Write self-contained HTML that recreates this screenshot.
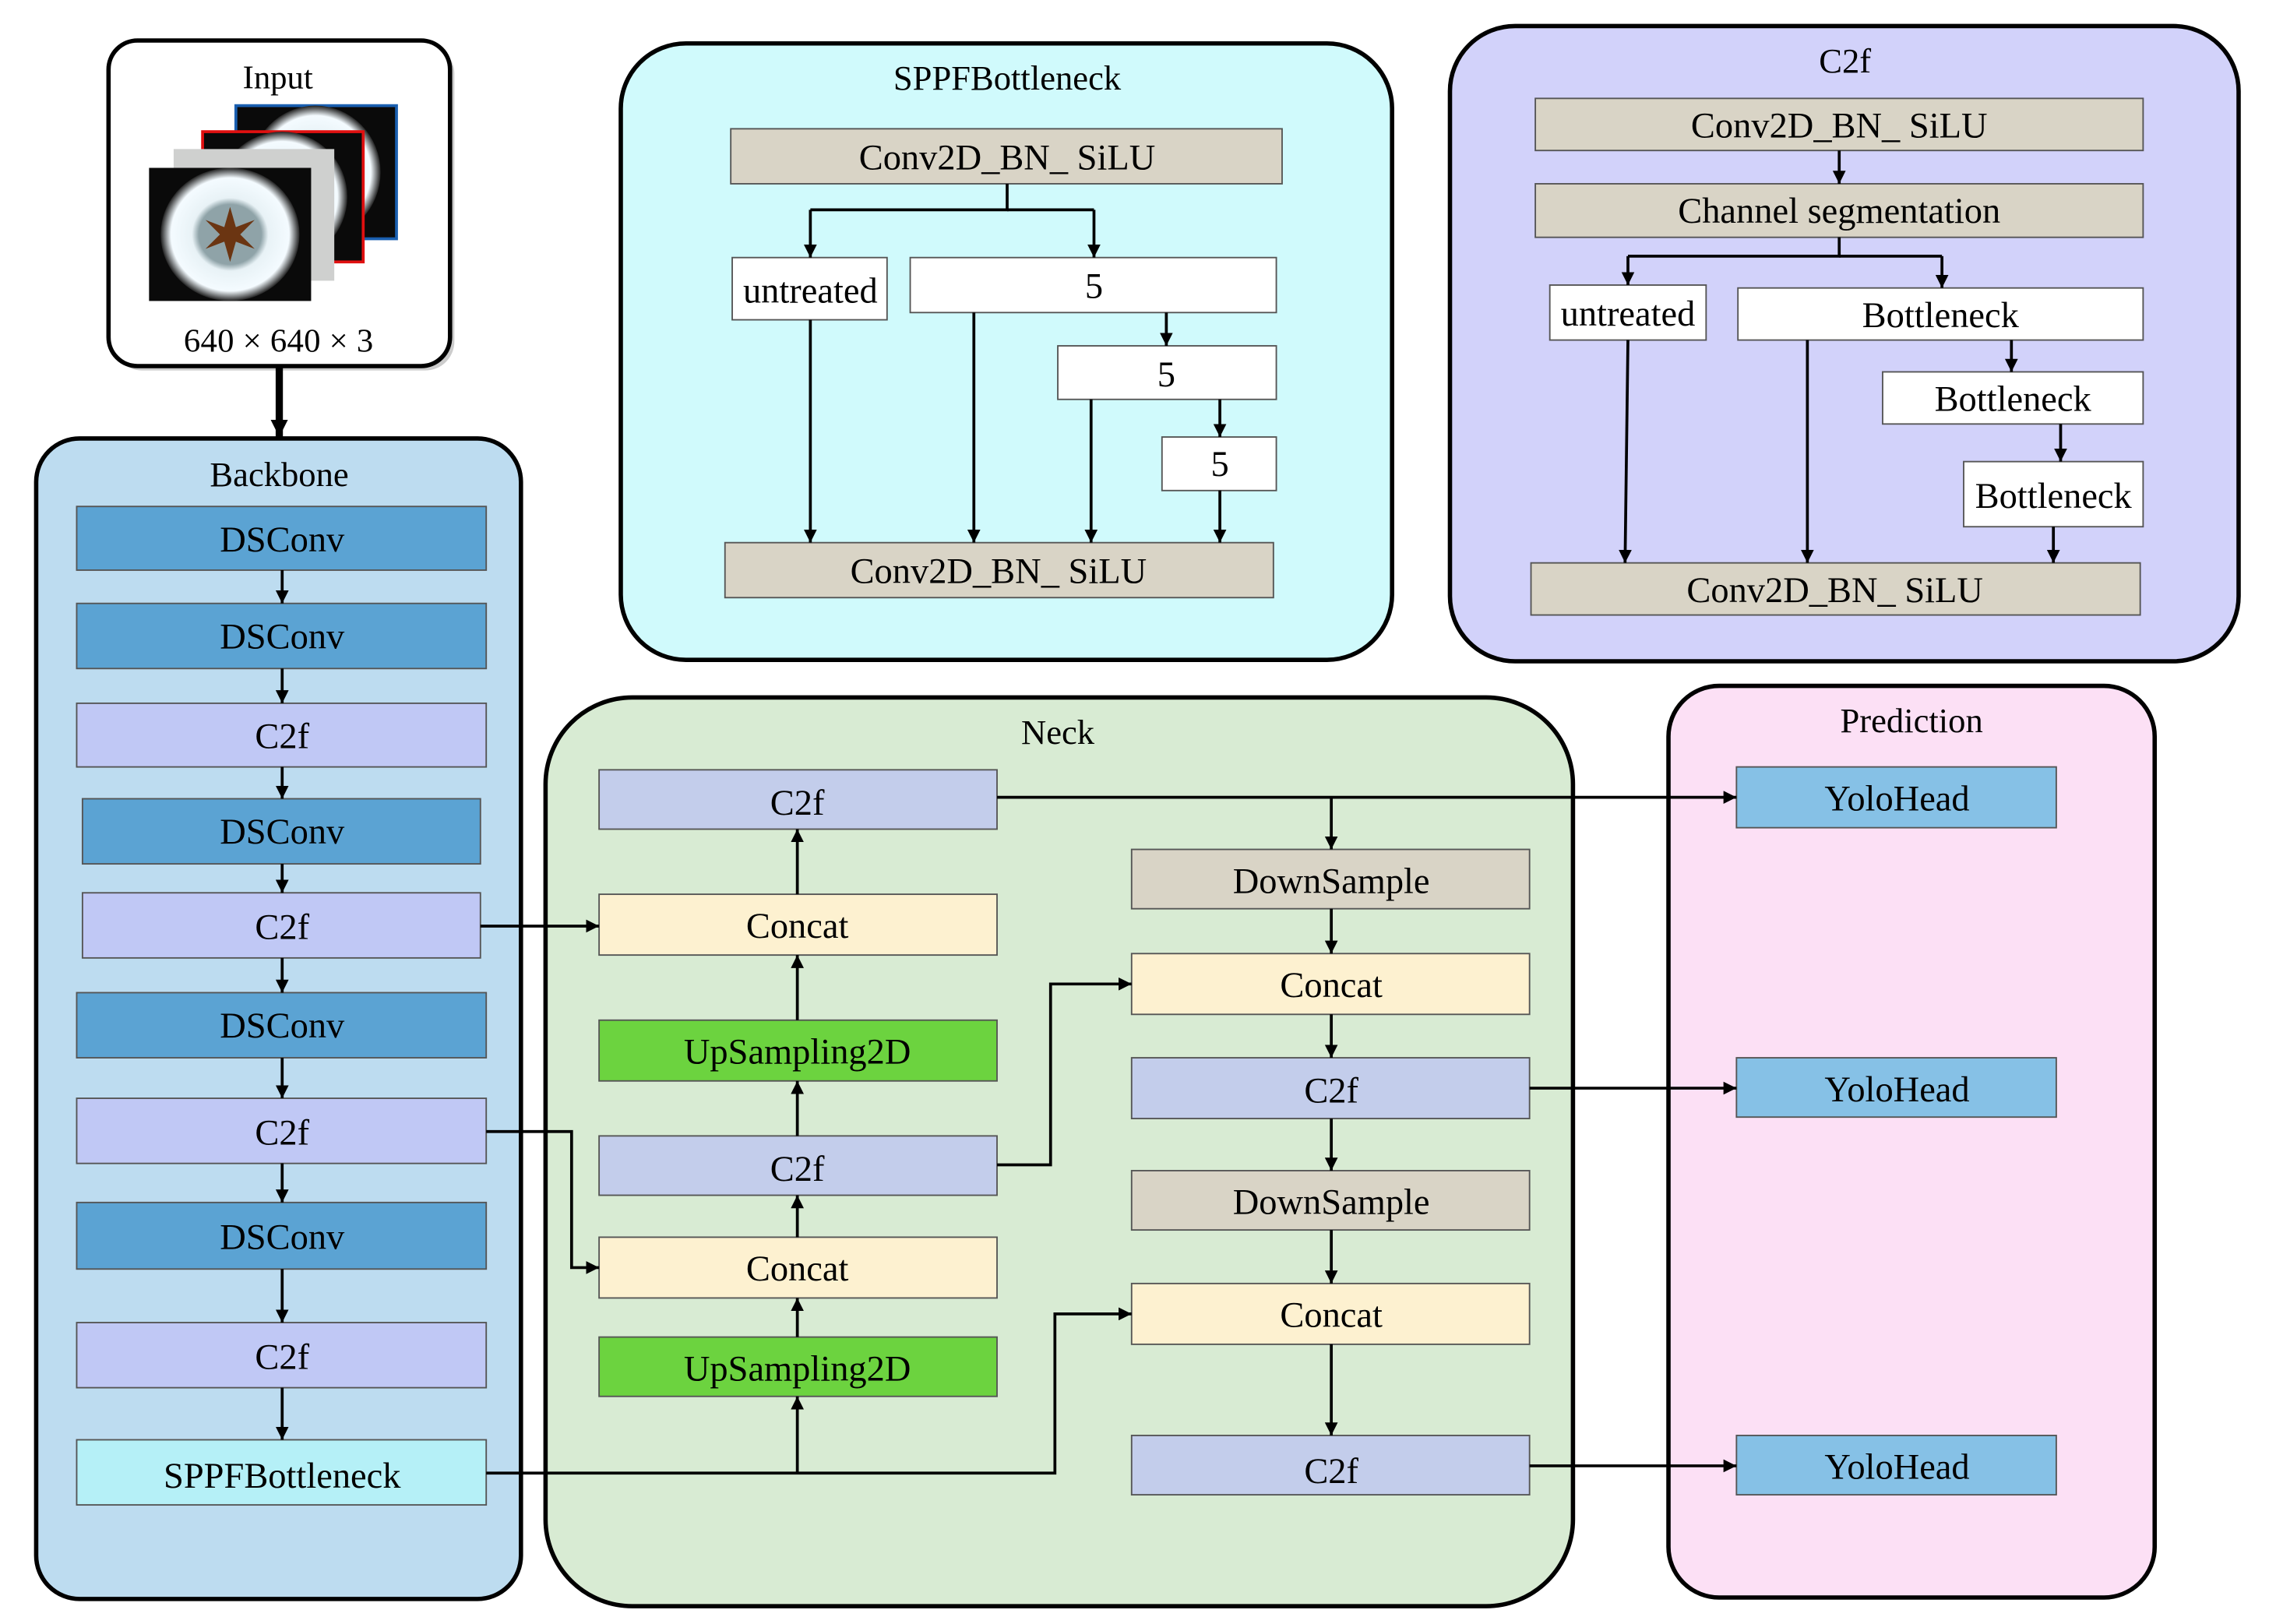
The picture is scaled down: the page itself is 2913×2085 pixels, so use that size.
<!DOCTYPE html>
<html><head><meta charset="utf-8"><style>
html,body{margin:0;padding:0;background:#fff;}
svg{display:block;}
text{font-family:"Liberation Serif",serif;fill:#000;}
</style></head><body>
<svg width="2913" height="2085" viewBox="0 0 1568 1122.3" xmlns="http://www.w3.org/2000/svg">
<defs>
<marker id="a" viewBox="0 0 10 10" refX="10" refY="5" markerWidth="9" markerHeight="9" markerUnits="userSpaceOnUse" orient="auto"><path d="M0,0L10,5L0,10z" fill="#000"/></marker>
<marker id="b" viewBox="0 0 10 10" refX="10" refY="5" markerWidth="12" markerHeight="12" markerUnits="userSpaceOnUse" orient="auto"><path d="M0,0L10,5L0,10z" fill="#000"/></marker>
<radialGradient id="ring" cx="50%" cy="50%" r="50%"><stop offset="0.45" stop-color="#8fa3a8"/><stop offset="0.55" stop-color="#e8f2f6"/><stop offset="0.85" stop-color="#f4fbff"/><stop offset="1" stop-color="#222"/></radialGradient>
</defs>
<rect width="1568" height="1123" fill="#fff"/>

<!-- Input -->
<rect x="78" y="31" width="236" height="225" rx="20" fill="#ccc"/>
<rect x="75" y="28" width="236" height="225" rx="20" fill="#fff" stroke="#000" stroke-width="3"/>
<text x="192" y="61" font-size="23" text-anchor="middle">Input</text>
<rect x="163" y="73" width="111" height="92" fill="#0a0a0a" stroke="#1a5fb0" stroke-width="2"/>
<ellipse cx="218" cy="119" rx="45" ry="46" fill="url(#ring)"/>
<rect x="140" y="91" width="111" height="90" fill="#0a0a0a" stroke="#e01010" stroke-width="2"/>
<ellipse cx="195" cy="136" rx="45" ry="45" fill="url(#ring)"/>
<rect x="120" y="103" width="111" height="91" fill="#cfd0cf"/>
<rect x="103" y="116" width="112" height="92" fill="#0a0a0a"/>
<ellipse cx="159" cy="162" rx="48" ry="46" fill="url(#ring)"/>
<path d="M159,143 L163,157 L176,152 L166,162 L176,172 L163,167 L159,181 L155,167 L142,172 L152,162 L142,152 L155,157z" fill="#6b3512"/>
<text x="127" y="243" font-size="23" textLength="131" lengthAdjust="spacing">640 × 640 × 3</text>
<line x1="193" y1="253" x2="193" y2="302" stroke="#000" stroke-width="5" marker-end="url(#b)"/>

<!-- Backbone -->
<rect x="25" y="303" width="335" height="802" rx="30" fill="#bddcf0" stroke="#000" stroke-width="3"/>
<text x="193" y="336" font-size="24" text-anchor="middle">Backbone</text>
<g stroke="#555" stroke-width="1">
<rect x="53" y="350" width="283" height="44" fill="#5ba3d3"/>
<rect x="53" y="417" width="283" height="45" fill="#5ba3d3"/>
<rect x="53" y="486" width="283" height="44" fill="#c0c8f5"/>
<rect x="57" y="552" width="275" height="45" fill="#5ba3d3"/>
<rect x="57" y="617" width="275" height="45" fill="#c0c8f5"/>
<rect x="53" y="686" width="283" height="45" fill="#5ba3d3"/>
<rect x="53" y="759" width="283" height="45" fill="#c0c8f5"/>
<rect x="53" y="831" width="283" height="46" fill="#5ba3d3"/>
<rect x="53" y="914" width="283" height="45" fill="#c0c8f5"/>
<rect x="53" y="995" width="283" height="45" fill="#b5f0f7"/>
</g>
<g font-size="25" text-anchor="middle">
<text x="195" y="381">DSConv</text>
<text x="195" y="448">DSConv</text>
<text x="195" y="517">C2f</text>
<text x="195" y="583">DSConv</text>
<text x="195" y="649">C2f</text>
<text x="195" y="717">DSConv</text>
<text x="195" y="791">C2f</text>
<text x="195" y="863">DSConv</text>
<text x="195" y="946">C2f</text>
<text x="195" y="1028">SPPFBottleneck</text>
</g>
<g stroke="#000" stroke-width="2" marker-end="url(#a)">
<line x1="195" y1="394" x2="195" y2="417"/>
<line x1="195" y1="462" x2="195" y2="486"/>
<line x1="195" y1="530" x2="195" y2="552"/>
<line x1="195" y1="597" x2="195" y2="617"/>
<line x1="195" y1="662" x2="195" y2="686"/>
<line x1="195" y1="731" x2="195" y2="759"/>
<line x1="195" y1="804" x2="195" y2="831"/>
<line x1="195" y1="877" x2="195" y2="914"/>
<line x1="195" y1="959" x2="195" y2="995"/>
</g>

<!-- SPPF panel -->
<rect x="429" y="30" width="533" height="426" rx="45" fill="#d0fafc" stroke="#000" stroke-width="3"/>
<text x="696" y="62" font-size="24" text-anchor="middle">SPPFBottleneck</text>
<g stroke="#555" stroke-width="1">
<rect x="505" y="89" width="381" height="38" fill="#d9d4c6"/>
<rect x="506" y="178" width="107" height="43" fill="#fff"/>
<rect x="629" y="178" width="253" height="38" fill="#fff"/>
<rect x="731" y="239" width="151" height="37" fill="#fff"/>
<rect x="803" y="302" width="79" height="37" fill="#fff"/>
<rect x="501" y="375" width="379" height="38" fill="#d9d4c6"/>
</g>
<g font-size="25" text-anchor="middle">
<text x="696" y="117">Conv2D_BN_ SiLU</text>
<text x="560" y="209">untreated</text>
<text x="756" y="206">5</text>
<text x="806" y="267">5</text>
<text x="843" y="329">5</text>
<text x="690" y="403">Conv2D_BN_ SiLU</text>
</g>
<g stroke="#000" stroke-width="2" fill="none">
<polyline points="696,127 696,145 560,145"/>
<line x1="696" y1="145" x2="756" y2="145"/>
</g>
<g stroke="#000" stroke-width="2" marker-end="url(#a)">
<line x1="560" y1="145" x2="560" y2="178"/>
<line x1="756" y1="145" x2="756" y2="178"/>
<line x1="560" y1="221" x2="560" y2="375"/>
<line x1="673" y1="216" x2="673" y2="375"/>
<line x1="754" y1="276" x2="754" y2="375"/>
<line x1="843" y1="339" x2="843" y2="375"/>
<line x1="806" y1="216" x2="806" y2="239"/>
<line x1="843" y1="276" x2="843" y2="302"/>
</g>

<!-- C2f panel -->
<rect x="1002" y="18" width="545" height="439" rx="45" fill="#d2d2fa" stroke="#000" stroke-width="3"/>
<text x="1275" y="50" font-size="24" text-anchor="middle">C2f</text>
<g stroke="#555" stroke-width="1">
<rect x="1061" y="68" width="420" height="36" fill="#d9d4c6"/>
<rect x="1061" y="127" width="420" height="37" fill="#d9d4c6"/>
<rect x="1071" y="197" width="108" height="38" fill="#fff"/>
<rect x="1201" y="199" width="280" height="36" fill="#fff"/>
<rect x="1301" y="257" width="180" height="36" fill="#fff"/>
<rect x="1357" y="319" width="124" height="45" fill="#fff"/>
<rect x="1058" y="389" width="421" height="36" fill="#d9d4c6"/>
</g>
<g font-size="25" text-anchor="middle">
<text x="1271" y="95">Conv2D_BN_ SiLU</text>
<text x="1271" y="154">Channel segmentation</text>
<text x="1125" y="225">untreated</text>
<text x="1341" y="226">Bottleneck</text>
<text x="1391" y="284">Bottleneck</text>
<text x="1419" y="351">Bottleneck</text>
<text x="1268" y="416">Conv2D_BN_ SiLU</text>
</g>
<g stroke="#000" stroke-width="2" fill="none">
<polyline points="1271,164 1271,177 1125,177"/>
<line x1="1271" y1="177" x2="1342" y2="177"/>
</g>
<g stroke="#000" stroke-width="2" marker-end="url(#a)">
<line x1="1271" y1="104" x2="1271" y2="127"/>
<line x1="1125" y1="177" x2="1125" y2="197"/>
<line x1="1342" y1="177" x2="1342" y2="199"/>
<line x1="1125" y1="235" x2="1123" y2="389"/>
<line x1="1249" y1="235" x2="1249" y2="389"/>
<line x1="1390" y1="235" x2="1390" y2="257"/>
<line x1="1424" y1="293" x2="1424" y2="319"/>
<line x1="1419" y1="364" x2="1419" y2="389"/>
</g>

<!-- Neck -->
<rect x="377" y="482" width="710" height="628" rx="60" fill="#d8ebd3" stroke="#000" stroke-width="3"/>
<text x="731" y="514" font-size="24" text-anchor="middle">Neck</text>
<g stroke="#555" stroke-width="1">
<rect x="414" y="532" width="275" height="41" fill="#c3cdeb"/>
<rect x="414" y="618" width="275" height="42" fill="#fdf1d0"/>
<rect x="414" y="705" width="275" height="42" fill="#6cd33f"/>
<rect x="414" y="785" width="275" height="41" fill="#c3cdeb"/>
<rect x="414" y="855" width="275" height="42" fill="#fdf1d0"/>
<rect x="414" y="924" width="275" height="41" fill="#6cd33f"/>
<rect x="782" y="587" width="275" height="41" fill="#d9d4c6"/>
<rect x="782" y="659" width="275" height="42" fill="#fdf1d0"/>
<rect x="782" y="731" width="275" height="42" fill="#c3cdeb"/>
<rect x="782" y="809" width="275" height="41" fill="#d9d4c6"/>
<rect x="782" y="887" width="275" height="42" fill="#fdf1d0"/>
<rect x="782" y="992" width="275" height="41" fill="#c3cdeb"/>
</g>
<g font-size="25" text-anchor="middle">
<text x="551" y="563">C2f</text>
<text x="551" y="648">Concat</text>
<text x="551" y="735">UpSampling2D</text>
<text x="551" y="816">C2f</text>
<text x="551" y="885">Concat</text>
<text x="551" y="954">UpSampling2D</text>
<text x="920" y="617">DownSample</text>
<text x="920" y="689">Concat</text>
<text x="920" y="762">C2f</text>
<text x="920" y="839">DownSample</text>
<text x="920" y="917">Concat</text>
<text x="920" y="1025">C2f</text>
</g>

<!-- Prediction -->
<rect x="1153" y="474" width="336" height="630" rx="35" fill="#fce0f5" stroke="#000" stroke-width="3"/>
<text x="1321" y="506" font-size="24" text-anchor="middle">Prediction</text>
<g stroke="#555" stroke-width="1" fill="#86c1e6">
<rect x="1200" y="530" width="221" height="42"/>
<rect x="1200" y="731" width="221" height="41"/>
<rect x="1200" y="992" width="221" height="41"/>
</g>
<g font-size="25" text-anchor="middle">
<text x="1311" y="560">YoloHead</text>
<text x="1311" y="761">YoloHead</text>
<text x="1311" y="1022">YoloHead</text>
</g>

<!-- connectors -->
<g stroke="#000" stroke-width="2" fill="none" marker-end="url(#a)">
<line x1="332" y1="640" x2="414" y2="640"/>
<polyline points="336,782 395,782 395,876 414,876"/>
<polyline points="336,1018 729,1018 729,908 782,908"/>
<line x1="551" y1="1018" x2="551" y2="965"/>
<line x1="551" y1="924" x2="551" y2="897"/>
<line x1="551" y1="855" x2="551" y2="826"/>
<line x1="551" y1="785" x2="551" y2="747"/>
<line x1="551" y1="705" x2="551" y2="660"/>
<line x1="551" y1="618" x2="551" y2="573"/>
<polyline points="689,805 726,805 726,680 782,680"/>
<line x1="689" y1="551" x2="1200" y2="551"/>
<line x1="920" y1="551" x2="920" y2="587"/>
<line x1="920" y1="628" x2="920" y2="659"/>
<line x1="920" y1="701" x2="920" y2="731"/>
<line x1="920" y1="773" x2="920" y2="809"/>
<line x1="920" y1="850" x2="920" y2="887"/>
<line x1="920" y1="929" x2="920" y2="992"/>
<line x1="1057" y1="752" x2="1200" y2="752"/>
<line x1="1057" y1="1013" x2="1200" y2="1013"/>
</g>
</svg>
</body></html>
